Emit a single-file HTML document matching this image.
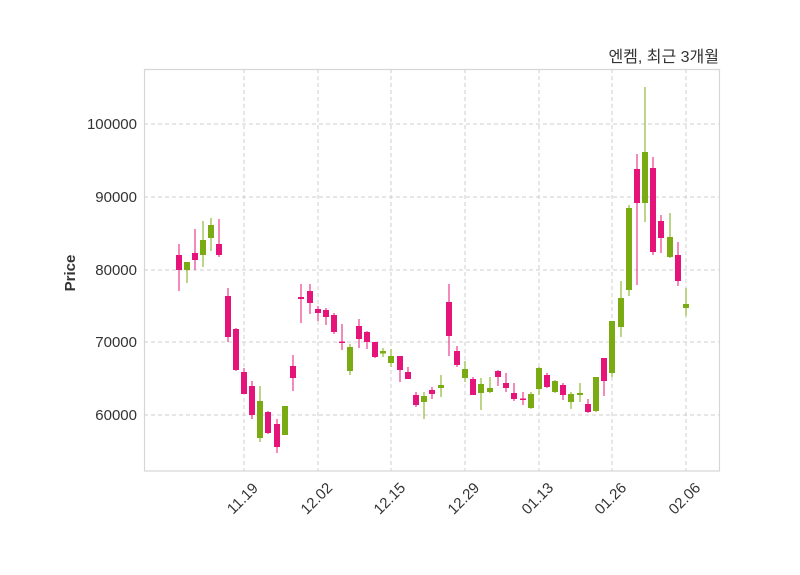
<!DOCTYPE html>
<html><head><meta charset="utf-8"><style>
html,body{margin:0;padding:0;background:#fff;}
svg{display:block;font-family:"Liberation Sans","Noto Sans CJK KR",sans-serif;}
</style></head><body>
<svg id="c" width="800" height="575" viewBox="0 0 800 575" xmlns="http://www.w3.org/2000/svg">
<rect x="0" y="0" width="800" height="575" fill="#fff"/>
<g stroke="#cfcfcf" stroke-width="1" stroke-dasharray="4,3">
<line x1="144" x2="720" y1="124" y2="124"/><line x1="144" x2="720" y1="197" y2="197"/>
<line x1="144" x2="720" y1="270" y2="270"/><line x1="144" x2="720" y1="342" y2="342"/>
<line x1="144" x2="720" y1="415" y2="415"/>
<line x1="244" x2="244" y1="69" y2="471"/><line x1="318" x2="318" y1="69" y2="471"/>
<line x1="391" x2="391" y1="69" y2="471"/><line x1="465" x2="465" y1="69" y2="471"/>
<line x1="539" x2="539" y1="69" y2="471"/><line x1="612" x2="612" y1="69" y2="471"/>
<line x1="686" x2="686" y1="69" y2="471"/>
</g>
<rect x="144.5" y="69.5" width="575" height="401.5" fill="none" stroke="#d6d6d6" stroke-width="1.2"/>
<g id="cd"></g>
<g font-size="15" fill="#333" text-anchor="end">
<text x="137" y="129">100000</text><text x="137" y="202">90000</text>
<text x="137" y="275">80000</text><text x="137" y="347">70000</text>
<text x="137" y="420">60000</text>
</g>
<g font-size="15" fill="#333" text-anchor="middle">
<text transform="translate(246,502) rotate(-45)">11.19</text>
<text transform="translate(320,502) rotate(-45)">12.02</text>
<text transform="translate(393,502) rotate(-45)">12.15</text>
<text transform="translate(467,502) rotate(-45)">12.29</text>
<text transform="translate(541,502) rotate(-45)">01.13</text>
<text transform="translate(614,502) rotate(-45)">01.26</text>
<text transform="translate(688,502) rotate(-45)">02.06</text>
</g>
<text transform="translate(75,273) rotate(-90)" font-size="15" font-weight="bold" fill="#333" text-anchor="middle">Price</text>
<text x="719" y="62" font-size="16" fill="#333" text-anchor="end">엔켐, 최근 3개월</text>
</svg>
<script>
var d=[
[179,244,255,270,291,'m'],[187,262,262,270,283,'g'],[195,229,253,260,270,'m'],[203,221,240,255,267,'g'],
[211,218,225,238,251,'g'],[219,219,244,255,257,'m'],[228,288,296,337,342,'m'],[236,328,329,370,371,'m'],
[244,368,372,394,394,'m'],[252,381,386,415,419,'m'],[260,386,401,438,442,'g'],[268,411,412,433,434,'m'],
[277,419,424,447,453,'m'],[285,406,406,435,435,'g'],[293,355,366,378,391,'m'],[301,284,297,299,323,'m'],
[310,284,291,303,314,'m'],[318,306,309,313,321,'m'],[326,308,310,317,325,'m'],[334,313,315,332,334,'m'],
[342,324,341.5,342.5,350,'m'],[350,344,347,371,375,'g'],[359,319,326,339,348,'m'],[367,331,332,342,349,'m'],
[375,342,342,357,358,'m'],[383,348,351,353.5,357,'g'],[391,349,356,363,367,'g'],[400,356,356,370,382,'m'],
[408,367,372,379,379,'m'],[416,392,395,405,407,'m'],[424,392,396,402,419,'g'],[432,387,390,394,399,'m'],
[441,375,385,388,397,'g'],[449,284,302,336,356,'m'],[457,346,351,365,367,'m'],[465,361,369,378,382,'g'],
[473,377,379,395,395,'m'],[481,378,384,393,410,'g'],[490,377,388,392,393,'g'],[498,370,371,377,386,'m'],
[506,373,383,388,392,'m'],[514,383,393,399,401,'m'],[523,392,398.5,399.5,405,'m'],[531,392,394,408,409,'g'],
[539,367,368,389,395,'g'],[547,373,375,387,388,'m'],[555,380,381,392,393,'g'],[563,383,385,395,400,'m'],
[571,392,394,402,409,'g'],[580,383,393,395,402,'g'],[588,399,404,412,413,'m'],[596,377,377,411,412,'g'],
[604,358,358,381,396,'m'],[612,321,321,373,377,'g'],[621,281,298,327,337,'g'],[629,205,208,290,296,'g'],
[637,154,169,203,285,'m'],[645,87,152,203,222,'g'],[653,157,168,252,255,'m'],[661,215,221,238,253,'m'],
[670,213,237,257,258,'g'],[678,242,255,281,286,'m'],[686,288,304,308,316,'g']];
var s='';
d.forEach(function(c){var col=c[5]=='m'?'#e5147a':'#7aab12';
s+='<line x1="'+c[0]+'" x2="'+c[0]+'" y1="'+c[1]+'" y2="'+c[4]+'" stroke="'+col+'" stroke-width="1"/>';
var h=Math.max(c[3]-c[2],1.5);
s+='<rect x="'+(c[0]-3)+'" y="'+c[2]+'" width="6" height="'+h+'" fill="'+col+'"/>';});
document.getElementById('cd').innerHTML=s;
</script>
</body></html>
